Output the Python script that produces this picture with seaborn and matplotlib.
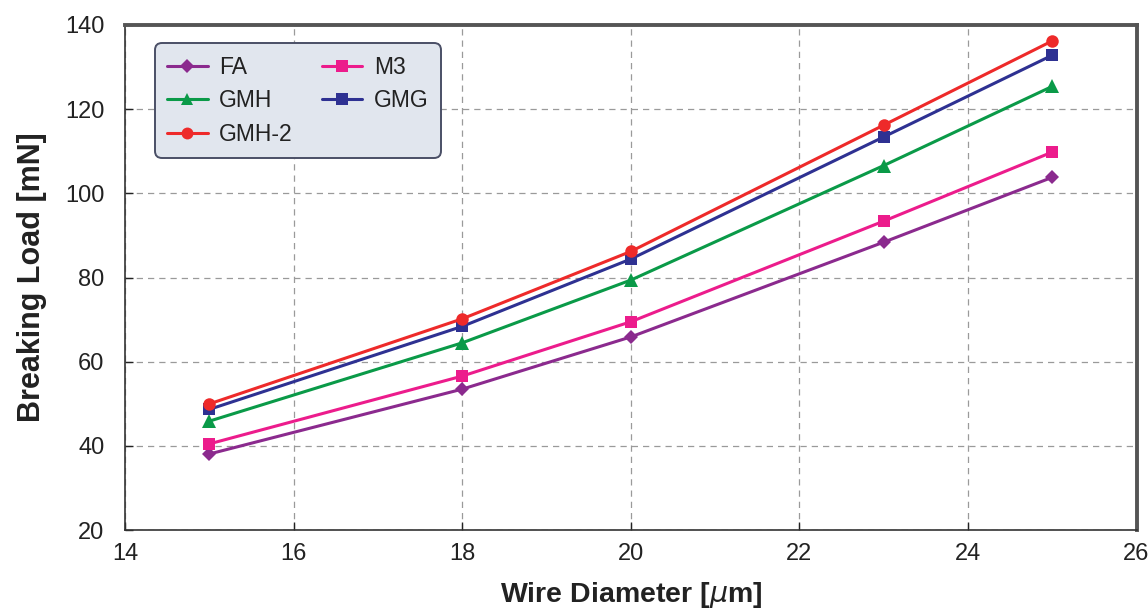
import matplotlib
matplotlib.use("Agg")
import matplotlib.pyplot as plt
import seaborn as sns
import pandas as pd
from matplotlib.lines import Line2D

diameters = [15, 18, 20, 23, 25]
fa = [38.1, 53.5, 65.9, 88.4, 103.8]
m3 = [40.5, 56.6, 69.5, 93.4, 109.8]
gmh = [45.9, 64.5, 79.4, 106.6, 125.4]
gmg = [48.7, 68.4, 84.4, 113.4, 132.8]
gmh2 = [50.0, 70.2, 86.2, 116.2, 136.2]
series_names = ["FA", "M3", "GMH", "GMG", "GMH-2"]
series_values = [fa, m3, gmh, gmg, gmh2]

colors = {"FA": "#8B2A8E", "M3": "#EC1C8C", "GMH": "#0A9A48",
          "GMG": "#2E3192", "GMH-2": "#EE2A2A"}
markers = {"FA": "D", "M3": "s", "GMH": "^", "GMG": "s", "GMH-2": "o"}
msizes = {"FA": 7.5, "M3": 8.5, "GMH": 9.5, "GMG": 8.5, "GMH-2": 9}

rows = []
for name, vals in zip(series_names, series_values):
    for d, v in zip(diameters, vals):
        rows.append({"Wire Diameter": d, "Breaking Load": v, "series": name})
df = pd.DataFrame(rows)

sns.set_theme(style="white")
plt.rcParams["font.family"] = ["Liberation Sans", "DejaVu Sans"]

fig, ax = plt.subplots(figsize=(11.48, 6.08), dpi=100)
fig.subplots_adjust(left=0.109, right=0.99, top=0.959, bottom=0.128)

for name in series_names:
    sub = df[df["series"] == name]
    sns.lineplot(data=sub, x="Wire Diameter", y="Breaking Load", ax=ax,
                 color=colors[name], marker=markers[name],
                 markersize=msizes[name], markeredgewidth=0,
                 linewidth=2.2, legend=False)

ax.set_xlim(14, 26)
ax.set_ylim(20, 140)
ax.set_xticks(range(14, 27, 2))
ax.set_yticks(range(20, 141, 20))
ax.grid(True, color="#9a9a9a", linestyle=(0, (5, 4)), linewidth=0.9)
ax.set_axisbelow(True)
ax.tick_params(axis="both", direction="in", labelsize=17, length=6,
               width=1, colors="#222222", bottom=True, left=True)
ax.tick_params(axis="y", pad=15)
ax.tick_params(axis="x", pad=9)
for t in ax.get_xticklabels() + ax.get_yticklabels():
    t.set_color("#222222")

for s in ["left", "bottom"]:
    ax.spines[s].set_color("#333333")
    ax.spines[s].set_linewidth(1.2)
for s in ["top", "right"]:
    ax.spines[s].set_color("#555555")
    ax.spines[s].set_linewidth(2.8)

ax.set_xlabel("Wire Diameter [$\\mu$m]", fontsize=20.5, fontweight="bold",
              color="#222222", labelpad=11)
ax.set_ylabel("Breaking Load [mN]", fontsize=22, fontweight="bold",
              color="#222222", labelpad=13)

order = ["FA", "GMH", "GMH-2", "M3", "GMG"]
handles = [Line2D([0], [0], color=colors[n], marker=markers[n],
                  markersize=msizes[n] * 0.95, markeredgewidth=0, linewidth=2.2)
           for n in order]
leg = ax.legend(handles, order, ncol=2, loc="upper left",
                bbox_to_anchor=(0.018, 0.986), fontsize=16.5,
                frameon=True, fancybox=True, shadow=False,
                handlelength=1.75, columnspacing=1.3, labelspacing=0.45,
                borderpad=0.55, handletextpad=0.5)
frame = leg.get_frame()
frame.set_facecolor("#E1E6EE")
frame.set_edgecolor("#4a4f66")
frame.set_linewidth(1.4)
frame.set_alpha(1)
frame.set_boxstyle("round", pad=0, rounding_size=0.3)
for t in leg.get_texts():
    t.set_color("#222222")

fig.savefig("out.png", dpi=100)
